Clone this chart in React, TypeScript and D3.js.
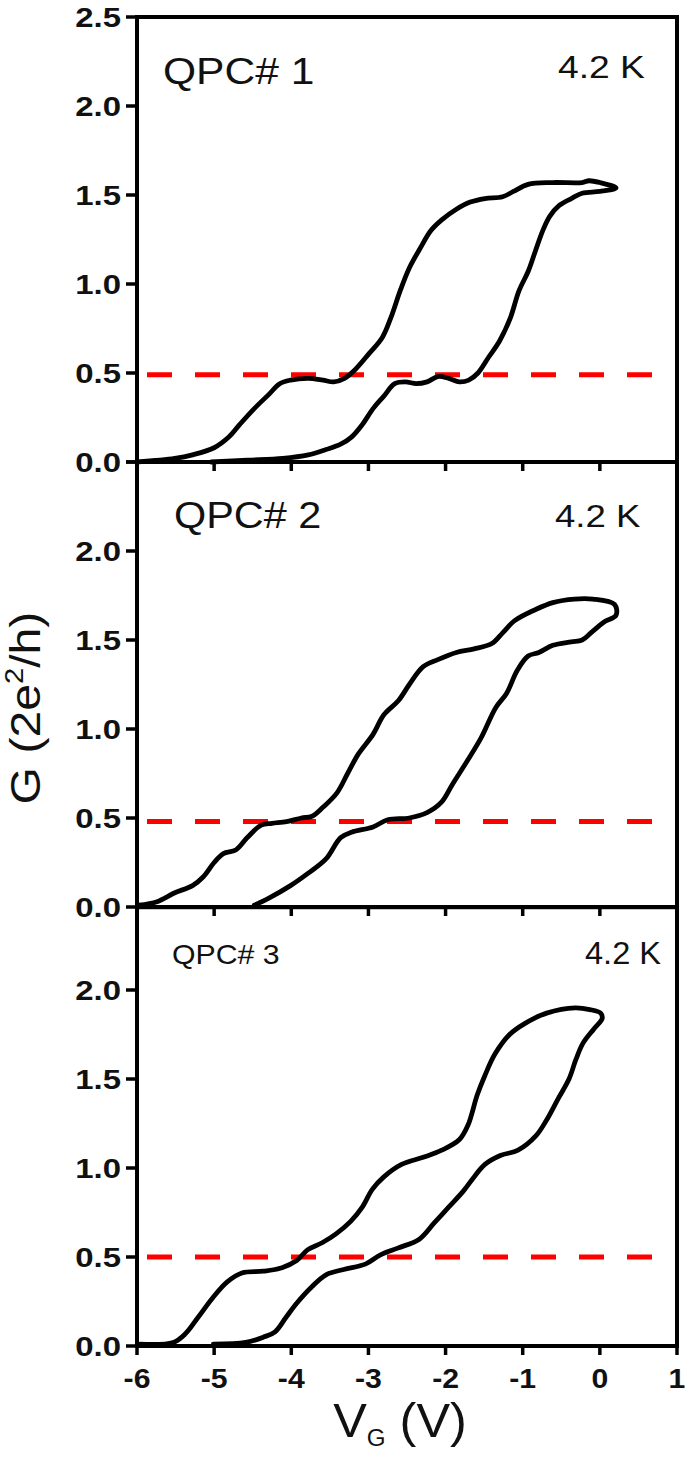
import React from "react";
import * as d3 from "d3";

// ---------- data ----------
const xTicks = [-6, -5, -4, -3, -2, -1, 0, 1];
const yTicks = [0, 0.5, 1.0, 1.5, 2.0, 2.5];
const panelNames = ["QPC# 1", "QPC# 2", "QPC# 3"];
const tempLabels = ["4.2 K", "4.2 K", "4.2 K"];
const halfLevels = [0.49, 0.48, 0.5];
const yMaxes = [2.5, 2.5, 2.465];

// QPC 1 sweep (forward then backward), [VG, G]
const qpc1: [number, number][] = [
  [-6.0, 0.0], [-5.51, 0.02], [-5.28, 0.04], [-5.0, 0.08], [-4.81, 0.14], [-4.67, 0.21],
  [-4.48, 0.3], [-4.29, 0.38], [-4.15, 0.44], [-4.01, 0.46], [-3.78, 0.47], [-3.59, 0.46],
  [-3.45, 0.45], [-3.31, 0.47], [-3.17, 0.52], [-2.99, 0.61], [-2.82, 0.7], [-2.71, 0.81],
  [-2.59, 0.96], [-2.47, 1.09], [-2.33, 1.2], [-2.19, 1.3], [-2.05, 1.36], [-1.86, 1.42],
  [-1.68, 1.46], [-1.49, 1.48], [-1.26, 1.49], [-1.12, 1.52], [-0.93, 1.56], [-0.61, 1.57],
  [-0.23, 1.57], [-0.14, 1.58], [0.0, 1.57], [0.21, 1.54],
  [0.0, 1.52], [-0.23, 1.51], [-0.37, 1.48], [-0.53, 1.44], [-0.65, 1.38], [-0.74, 1.3],
  [-0.84, 1.18], [-0.93, 1.07], [-1.05, 0.96], [-1.16, 0.81], [-1.3, 0.68], [-1.44, 0.59],
  [-1.58, 0.5], [-1.7, 0.46], [-1.82, 0.45], [-1.96, 0.47], [-2.1, 0.48], [-2.24, 0.45],
  [-2.38, 0.44], [-2.52, 0.45], [-2.66, 0.44], [-2.8, 0.37], [-2.94, 0.3], [-3.08, 0.21],
  [-3.22, 0.14], [-3.36, 0.1], [-3.55, 0.07], [-3.78, 0.04], [-4.11, 0.02], [-4.57, 0.01],
  [-5.04, 0.0],
];

const qpc2: [number, number][] = [
  [-5.98, 0.01], [-5.74, 0.03], [-5.51, 0.08], [-5.28, 0.12], [-5.14, 0.17], [-5.0, 0.25],
  [-4.88, 0.3], [-4.72, 0.32], [-4.57, 0.39], [-4.39, 0.46], [-4.25, 0.47], [-4.06, 0.48],
  [-3.87, 0.5], [-3.73, 0.51], [-3.59, 0.56], [-3.41, 0.64], [-3.27, 0.75], [-3.13, 0.86],
  [-2.94, 0.97], [-2.8, 1.08], [-2.61, 1.16], [-2.47, 1.25], [-2.29, 1.35], [-2.1, 1.39],
  [-1.86, 1.43], [-1.63, 1.45], [-1.4, 1.48], [-1.26, 1.54], [-1.1, 1.61], [-0.84, 1.67],
  [-0.61, 1.71], [-0.33, 1.73], [-0.09, 1.73], [0.19, 1.7], [0.21, 1.64],
  [0.05, 1.6], [-0.09, 1.55], [-0.23, 1.5], [-0.37, 1.49], [-0.61, 1.47], [-0.79, 1.43],
  [-0.93, 1.41], [-1.07, 1.33], [-1.21, 1.2], [-1.35, 1.12], [-1.54, 0.95], [-1.72, 0.82],
  [-1.91, 0.69], [-2.05, 0.59], [-2.24, 0.53], [-2.47, 0.5], [-2.75, 0.49], [-2.94, 0.45],
  [-3.22, 0.42], [-3.36, 0.39], [-3.55, 0.27], [-3.78, 0.19], [-4.01, 0.12], [-4.29, 0.05],
  [-4.48, 0.01],
];

const qpc3: [number, number][] = [
  [-5.96, 0.01], [-5.53, 0.02], [-5.37, 0.07], [-5.21, 0.16], [-5.02, 0.27], [-4.83, 0.36],
  [-4.64, 0.41], [-4.36, 0.42], [-4.12, 0.44], [-3.93, 0.48], [-3.79, 0.54], [-3.6, 0.58],
  [-3.42, 0.63], [-3.23, 0.7], [-3.08, 0.78], [-2.95, 0.88], [-2.8, 0.95], [-2.57, 1.02],
  [-2.29, 1.06], [-2.05, 1.1], [-1.82, 1.16], [-1.71, 1.24], [-1.59, 1.41], [-1.49, 1.52],
  [-1.36, 1.64], [-1.17, 1.75], [-0.98, 1.81], [-0.69, 1.87], [-0.32, 1.9], [-0.13, 1.89],
  [0.01, 1.87], [0.03, 1.84],
  [-0.08, 1.78], [-0.22, 1.7], [-0.31, 1.61], [-0.4, 1.5], [-0.54, 1.39], [-0.69, 1.27],
  [-0.83, 1.18], [-1.06, 1.1], [-1.29, 1.07], [-1.49, 1.02], [-1.63, 0.95], [-1.77, 0.87],
  [-1.96, 0.78], [-2.15, 0.69], [-2.34, 0.6], [-2.62, 0.55], [-2.85, 0.51], [-3.04, 0.46],
  [-3.32, 0.43], [-3.55, 0.4], [-3.74, 0.33], [-3.93, 0.24], [-4.07, 0.16], [-4.21, 0.08],
  [-4.36, 0.05], [-4.59, 0.02], [-5.01, 0.01],
];

const series = [qpc1, qpc2, qpc3];

// ---------- layout ----------
const W = 685;
const H = 1458;
const left = 137;
const right = 677;
const panelBottoms = [462, 907, 1346];
const unitPx = 178;

const FONT = "Liberation Sans, Arial, sans-serif";

type TProps = {
  x: number;
  y: number;
  sx?: number;
  rot?: number;
  size: number;
  bold?: boolean;
  anchor?: "start" | "middle" | "end";
  dy?: string;
  children: React.ReactNode;
};

function T({ x, y, sx = 1, rot = 0, size, bold, anchor = "start", dy, children }: TProps) {
  return (
    <text
      transform={`translate(${x},${y}) rotate(${rot}) scale(${sx},1)`}
      textAnchor={anchor}
      fontSize={size}
      fontWeight={bold ? "bold" : "normal"}
      dy={dy}
      fill="#111"
    >
      {children}
    </text>
  );
}

const nameLayout = [
  { x: 163, y: 84, size: 37, sx: 1.15 },
  { x: 174, y: 528, size: 37, sx: 1.12 },
  { x: 172, y: 964, size: 28, sx: 1.08 },
];
const tempLayout = [
  { x: 558, y: 78, size: 31, sx: 1.2 },
  { x: 555, y: 527, size: 31, sx: 1.18 },
  { x: 585, y: 964, size: 31, sx: 1.05 },
];

export default function App() {
  const x = d3.scaleLinear().domain([-6, 1]).range([left, right]);

  const panels = series.map((data, i) => {
    const bottom = panelBottoms[i];
    const top = bottom - yMaxes[i] * unitPx;
    const y = d3.scaleLinear().domain([0, yMaxes[i]]).range([bottom, top]);
    const line = d3
      .line<[number, number]>()
      .x((d) => x(d[0]))
      .y((d) => y(d[1]))
      .curve(d3.curveCatmullRom.alpha(0.5));
    return { data, y, top, bottom, line };
  });

  return (
    <svg
      width={W}
      height={H}
      style={{ position: "absolute", left: 0, top: 0, background: "#fff" }}
      fontFamily={FONT}
    >
      {panels.map((p, i) => {
        const ticks = yTicks.filter((t) => t <= yMaxes[i] + 1e-6);
        return (
          <g key={i}>
            {/* dashed half-quantum line */}
            <line
              x1={147}
              x2={658}
              y1={p.y(halfLevels[i])}
              y2={p.y(halfLevels[i])}
              stroke="#ff0000"
              strokeWidth={5}
              strokeDasharray="25 23"
            />
            {/* curve */}
            <path
              d={p.line(p.data) || ""}
              fill="none"
              stroke="#000"
              strokeWidth={4.8}
              strokeLinejoin="round"
              strokeLinecap="round"
            />
            {/* frame */}
            <rect
              x={left}
              y={p.top}
              width={right - left}
              height={p.bottom - p.top}
              fill="none"
              stroke="#000"
              strokeWidth={4}
            />
            {/* y ticks */}
            {ticks.map((t) => (
              <g key={t}>
                <line
                  x1={left - 11}
                  x2={left}
                  y1={p.y(t)}
                  y2={p.y(t)}
                  stroke="#000"
                  strokeWidth={3.5}
                />
                {!(i > 0 && t > yMaxes[i] - 0.3) && (
                  <T x={121} y={p.y(t)} dy="0.36em" anchor="end" size={27} bold sx={1.22}>
                    {t.toFixed(1)}
                  </T>
                )}
              </g>
            ))}
            {/* x ticks */}
            {xTicks.map((t) => (
              <line
                key={t}
                x1={x(t)}
                x2={x(t)}
                y1={p.bottom}
                y2={p.bottom + 9}
                stroke="#000"
                strokeWidth={3.5}
              />
            ))}
            {/* labels */}
            <T x={nameLayout[i].x} y={nameLayout[i].y} size={nameLayout[i].size} sx={nameLayout[i].sx}>
              {panelNames[i]}
            </T>
            <T x={tempLayout[i].x} y={tempLayout[i].y} size={tempLayout[i].size} sx={tempLayout[i].sx}>
              {tempLabels[i]}
            </T>
          </g>
        );
      })}

      {/* x tick labels */}
      {xTicks.map((t) => (
        <T key={t} x={x(t)} y={1388} anchor="middle" size={27} bold sx={1.12}>
          {t}
        </T>
      ))}

      {/* x axis title */}
      <T x={400} y={1437} anchor="middle" size={48} sx={1.05}>
        V<tspan fontSize={23} dy={9}>G</tspan>
        <tspan dy={-9}>{" (V)"}</tspan>
      </T>

      {/* y axis title */}
      <T x={40} y={708} rot={-90} anchor="middle" size={43} sx={1.12}>
        G (2e<tspan fontSize={26} dy={-17}>2</tspan>
        <tspan dy={17}>/h)</tspan>
      </T>
    </svg>
  );
}
